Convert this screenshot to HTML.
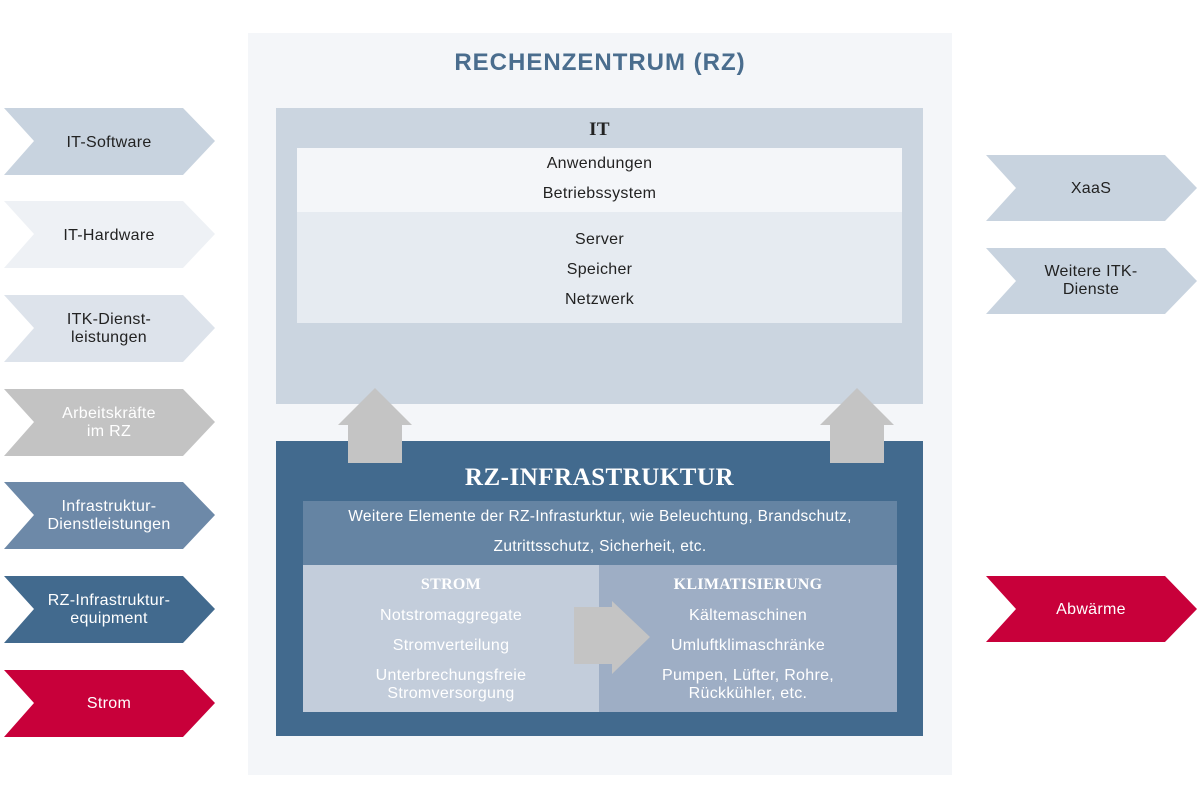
<!DOCTYPE html><html><head><meta charset="utf-8"><style>
body{margin:0;width:1200px;height:800px;background:#fff;font-family:"Liberation Sans",sans-serif;position:relative;overflow:hidden}
.a{position:absolute}
.t{position:absolute;text-align:center;font-size:16px;line-height:18px;letter-spacing:0.3px}
.c{display:flex;align-items:center;justify-content:center}
.serif{font-family:"Liberation Serif",serif;font-weight:bold}
</style></head><body>
<svg class="a" style="left:0;top:0" width="1200" height="800">
<g>
<polygon points="4,108 183,108 215,141 183,175 4,175 34,141" fill="#c8d3df"/>
<polygon points="4,201 183,201 215,234 183,268 4,268 34,234" fill="#eef1f5"/>
<polygon points="4,295 183,295 215,328 183,362 4,362 34,328" fill="#dde3eb"/>
<polygon points="4,389 183,389 215,422 183,456 4,456 34,422" fill="#c3c3c3"/>
<polygon points="4,482 183,482 215,515 183,549 4,549 34,515" fill="#6d89a8"/>
<polygon points="4,576 183,576 215,609 183,643 4,643 34,609" fill="#426a8e"/>
<polygon points="4,670 183,670 215,703 183,737 4,737 34,703" fill="#c8003a"/>
<polygon points="986,155 1165,155 1197,188 1165,221 986,221 1016,188" fill="#c8d3df"/>
<polygon points="986,248 1165,248 1197,281 1165,314 986,314 1016,281" fill="#c8d3df"/>
<polygon points="986,576 1165,576 1197,609 1165,642 986,642 1016,609" fill="#c8003a"/>
</g>
<rect x="248" y="33" width="704" height="742" fill="#f4f6f9"/>
<rect x="276" y="108" width="647" height="296" fill="#cbd5e0"/>
<rect x="297" y="148" width="605" height="64" fill="#f4f6f9"/>
<rect x="297" y="212" width="605" height="111" fill="#e6ebf1"/>
<rect x="276" y="441" width="647" height="295" fill="#426a8e"/>
<rect x="303" y="501" width="594" height="64" fill="#6584a3"/>
<rect x="303" y="565" width="296" height="147" fill="#c3cddb"/>
<rect x="599" y="565" width="298" height="147" fill="#9eaec5"/>
<polygon points="375,388 412,425 402,425 402,463 348,463 348,425 338,425" fill="#c4c4c4"/>
<polygon points="857,388 894,425 884,425 884,463 830,463 830,425 820,425" fill="#c4c4c4"/>
<polygon points="574,607 612,607 612,601 650,637 612,674 612,664 574,664" fill="#c4c4c4"/>
</svg>
<div class="t c" style="left:34px;top:109px;width:150px;height:67px;color:#222">IT-Software</div>
<div class="t c" style="left:34px;top:202px;width:150px;height:67px;color:#222">IT-Hardware</div>
<div class="t c" style="left:34px;top:295px;width:150px;height:67px;color:#222">ITK-Dienst-<br>leistungen</div>
<div class="t c" style="left:34px;top:389px;width:150px;height:67px;color:#fff">Arbeitskräfte<br>im RZ</div>
<div class="t c" style="left:34px;top:482px;width:150px;height:67px;color:#fff">Infrastruktur-<br>Dienstleistungen</div>
<div class="t c" style="left:34px;top:576px;width:150px;height:67px;color:#fff">RZ-Infrastruktur-<br>equipment</div>
<div class="t c" style="left:34px;top:670px;width:150px;height:67px;color:#fff">Strom</div>
<div class="t c" style="left:1016px;top:156px;width:150px;height:66px;color:#222">XaaS</div>
<div class="t c" style="left:1016px;top:248px;width:150px;height:66px;color:#222">Weitere ITK-<br>Dienste</div>
<div class="t c" style="left:1016px;top:577px;width:150px;height:66px;color:#fff">Abwärme</div>
<div class="t" style="left:248px;top:49px;width:704px;font-size:24px;line-height:28px;font-weight:bold;color:#4a6d8e;letter-spacing:1px">RECHENZENTRUM (RZ)</div>
<div class="t serif" style="left:276px;top:119px;width:647px;font-size:19px;line-height:22px;color:#222">IT</div>
<div class="t" style="left:297px;top:149px;width:605px;color:#222;line-height:30px">Anwendungen<br>Betriebssystem</div>
<div class="t" style="left:297px;top:225px;width:605px;color:#222;line-height:30px">Server<br>Speicher<br>Netzwerk</div>
<div class="t serif" style="left:276px;top:464px;width:647px;font-size:25px;line-height:28px;color:#fff;letter-spacing:0.5px">RZ-INFRASTRUKTUR</div>
<div class="t" style="left:303px;top:502px;width:594px;color:#fff;line-height:30px;font-size:15.5px">Weitere Elemente der RZ-Infrasturktur, wie Beleuchtung, Brandschutz,<br>Zutrittsschutz, Sicherheit, etc.</div>
<div class="t serif" style="left:303px;top:576px;width:296px;color:#fff">STROM</div>
<div class="t" style="left:303px;top:601px;width:296px;color:#fff;line-height:30px">Notstromaggregate<br>Stromverteilung</div>
<div class="t" style="left:303px;top:667px;width:296px;color:#fff">Unterbrechungsfreie<br>Stromversorgung</div>
<div class="t serif" style="left:599px;top:576px;width:298px;color:#fff">KLIMATISIERUNG</div>
<div class="t" style="left:599px;top:601px;width:298px;color:#fff;line-height:30px">Kältemaschinen<br>Umluftklimaschränke</div>
<div class="t" style="left:599px;top:667px;width:298px;color:#fff">Pumpen, Lüfter, Rohre,<br>Rückkühler, etc.</div>
</body></html>
